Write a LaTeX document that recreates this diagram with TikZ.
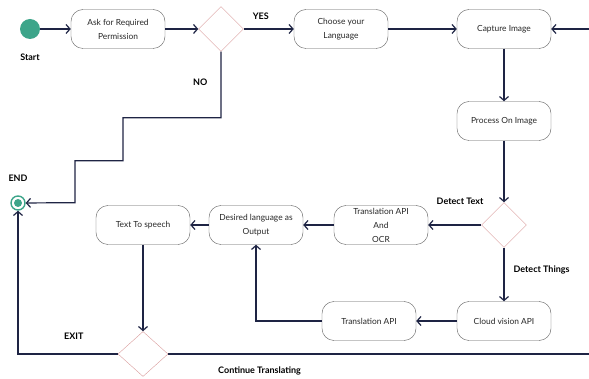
\documentclass[tikz,border=0pt]{standalone}
\usepackage{fontspec}
\setmainfont{Lato}
\usepackage{tikz}
\usetikzlibrary{shapes.geometric,arrows.meta,positioning}
\definecolor{linec}{HTML}{1E2444}
\definecolor{boxc}{HTML}{5A5A5A}
\definecolor{diac}{HTML}{D89A9A}
\definecolor{startc}{HTML}{3DA58A}

\begin{document}
\begin{tikzpicture}[x=1pt,y=-1pt,>={Straight Barb[length=4pt,width=9pt]},node distance=100pt,font=\fontsize{8.4}{14}\selectfont]
\tikzstyle{step node}=[rectangle,rounded corners=12pt,draw=boxc,thin,text=black!85,minimum width=94pt,minimum height=39pt,align=center,inner sep=2pt]
\tikzstyle{choice node}=[diamond,draw=diac,thin,minimum width=45pt,minimum height=45pt,inner sep=0]

\tikzset{
	start node/.style={circle,fill=startc,minimum size=20pt,inner sep=0},
	end node/.style={circle,draw=startc,line width=1.4pt,minimum size=14pt,inner sep=0,
		path picture={\fill[startc] (path picture bounding box.center) circle (4pt);}},
	label node/.style={font=\bfseries\fontsize{9}{11}\selectfont,inner sep=1pt,text=black},
	flow/.style={draw=linec,line width=1.2pt}
}

      \useasboundingbox (0,0) rectangle (589,379);

      \node[start node] (start) at (30,29) {};
      \node[label node] (startlbl) [below=14pt of start] {Start};
      \node[step node] (ask) [node distance=88pt,right of=start] {Ask for Required\\Permission};
      \node[choice node] (perm) [node distance=103pt,right of=ask] {};
      \node[step node] (choose) [node distance=120pt,right of=perm] {Choose your\\Language};
      \node[step node] (capture) [node distance=163pt,right of=choose] {Capture Image};
      \node[step node] (process) [node distance=92pt,below of=capture] {Process On Image};
      \node[choice node] (detect) [node distance=104pt,below of=process] {};
      \node[step node] (ocr) [node distance=123pt,left of=detect] {Translation API\\And\\OCR};
      \node[step node] (desired) [node distance=125pt,left of=ocr] {Desired language as\\Output};
      \node[step node] (tts) [node distance=113pt,left of=desired] {Text To speech};
      \node[step node] (cloud) [node distance=96pt,below of=detect] {Cloud vision API};
      \node[step node] (trans) [node distance=135pt,left of=cloud] {Translation API};
      \node[choice node,minimum width=50pt] (exit) [node distance=129pt,below of=tts] {};
      \node[end node] (end) at (18,203) {};
      \node[label node] (endlbl) [above=13pt of end] {END};

    \path[->,flow] (start) edge node {} (ask)
                (ask) edge node {} (perm)
                (perm) edge node[label node,pos=0.34,above=8pt] {YES} (choose)
                (choose) edge node {} (capture)
                (capture) edge node {} (process)
                (process) edge node {} (detect)
                (detect) edge node[label node,pos=0.4,above=19pt] {Detect Text} (ocr)
                (ocr) edge node {} (desired)
                (desired) edge node {} (tts)
                (detect) edge node[label node,pos=0.42,right=8pt] {Detect Things} (cloud)
                (cloud) edge node {} (trans)
                (tts) edge node {} (exit)
;
    \draw[->,flow] (perm.south) -- ++(0,66) node[label node,pos=0.47,left=12pt] {NO}
                -| ++(-98,43) -| ++(-48,42) -- (end);
    \draw[->,flow] (trans.west) -| (desired.south);
    \draw[->,flow] (exit.west) -| node[label node,pos=0.22,above=13pt] {EXIT} (end.south);
    \draw[->,flow] (exit.east) -- ++(425,0) node[label node,pos=0.215,below=11pt] {Continue Translating}
                |- (capture.east);
\end{tikzpicture}
\end{document}
